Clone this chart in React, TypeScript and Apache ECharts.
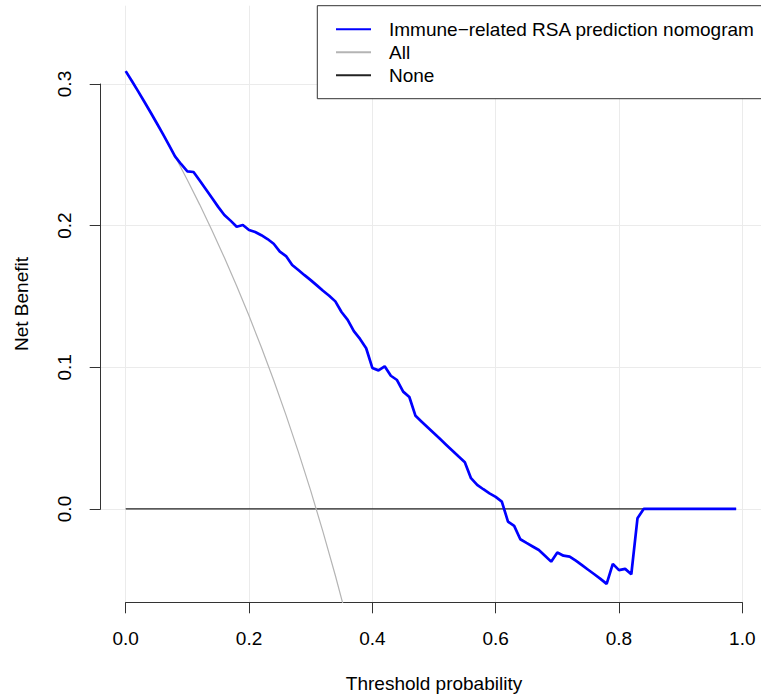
import React, { useEffect, useRef } from "react";
import * as echarts from "echarts";

const MODEL_NAME = "Immune\u2212related RSA prediction nomogram";

// Threshold probabilities of the model curve (0.00 .. 0.99)
const modelThresholds = [
  0.0, 0.01, 0.02, 0.03, 0.04, 0.05, 0.06, 0.07, 0.08, 0.09,
  0.1, 0.11, 0.12, 0.13, 0.14, 0.15, 0.16, 0.17, 0.18, 0.19,
  0.2, 0.21, 0.22, 0.23, 0.24, 0.25, 0.26, 0.27, 0.28, 0.29,
  0.3, 0.31, 0.32, 0.33, 0.34, 0.35, 0.36, 0.37, 0.38, 0.39,
  0.4, 0.41, 0.42, 0.43, 0.44, 0.45, 0.46, 0.47, 0.48, 0.49,
  0.5, 0.51, 0.52, 0.53, 0.54, 0.55, 0.56, 0.57, 0.58, 0.59,
  0.6, 0.61, 0.62, 0.63, 0.64, 0.65, 0.66, 0.67, 0.68, 0.69,
  0.7, 0.71, 0.72, 0.73, 0.74, 0.75, 0.76, 0.77, 0.78, 0.79,
  0.8, 0.81, 0.82, 0.83, 0.84, 0.85, 0.86, 0.87, 0.88, 0.89,
  0.9, 0.91, 0.92, 0.93, 0.94, 0.95, 0.96, 0.97, 0.98, 0.99,
];
const modelNetBenefit = [
  0.309, 0.302, 0.2949, 0.2876, 0.2802, 0.2726, 0.2649, 0.257, 0.2489, 0.2433,
  0.2383, 0.2378, 0.2318, 0.2256, 0.2194, 0.2132, 0.2075, 0.2035, 0.1992, 0.2004,
  0.1969, 0.1955, 0.1932, 0.1905, 0.1872, 0.1816, 0.1785, 0.1722, 0.1686, 0.165,
  0.1615, 0.1578, 0.154, 0.1505, 0.1465, 0.139, 0.1334, 0.1255, 0.12, 0.1134,
  0.0995, 0.0978, 0.1007, 0.094, 0.091, 0.0828, 0.079, 0.0657, 0.0616, 0.0575,
  0.0534, 0.0493, 0.0452, 0.0411, 0.037, 0.033, 0.0217, 0.017, 0.0139, 0.011,
  0.0085, 0.0052, -0.009, -0.012, -0.0214, -0.024, -0.0265, -0.029, -0.033, -0.0372,
  -0.0308, -0.033, -0.0336, -0.0365, -0.0397, -0.0429, -0.0461, -0.0494, -0.0529, -0.0388,
  -0.0432, -0.0423, -0.0461, -0.0066, 0.0, 0.0, 0.0, 0.0, 0.0, 0.0,
  0.0, 0.0, 0.0, 0.0, 0.0, 0.0, 0.0, 0.0, 0.0, 0.0,
];

// "All" (treat everyone) curve
const allThresholds = [
  0.0, 0.02, 0.04, 0.06, 0.08, 0.1, 0.12, 0.14, 0.16, 0.18,
  0.2, 0.22, 0.24, 0.26, 0.28, 0.3, 0.32, 0.34, 0.36,
];
const allNetBenefit = [
  0.309, 0.2949, 0.2802, 0.2649, 0.2489, 0.2322, 0.2148, 0.1965, 0.1774, 0.1573,
  0.1363, 0.1141, 0.0908, 0.0662, 0.0403, 0.0129, -0.0162, -0.047, -0.0797,
];

// "None" (treat no one) line
const noneThresholds = [0.0, 0.99];
const noneNetBenefit = [0.0, 0.0];

const xTicks = [0, 0.2, 0.4, 0.6, 0.8, 1.0];
const yTicks = [0, 0.1, 0.2, 0.3];

const FONT = "'Liberation Sans', Arial, Helvetica, sans-serif";

function zip(xs: number[], ys: number[]) {
  return xs.map((x, i) => [x, ys[i]]);
}

export default function App() {
  const ref = useRef<HTMLDivElement | null>(null);

  useEffect(() => {
    if (!ref.current) return;
    const chart = echarts.init(ref.current, undefined, { renderer: "svg" });

    const axisColor = "#333333";
    const gridColor = "#ebebeb";
    const transparent = "rgba(0,0,0,0)";

    const option: any = {
      animation: false,
      backgroundColor: "#ffffff",
      textStyle: { fontFamily: FONT },
      grid: [
        { left: 125.7, right: 18.7, top: 5.7, bottom: 93.7, containLabel: false, outerBoundsMode: "none" },
        { left: 100.7, right: 0, top: 84, bottom: 187, containLabel: false, outerBoundsMode: "none" },
      ],
      xAxis: [
        {
          gridIndex: 0,
          type: "value",
          min: xTicks[0],
          max: xTicks[xTicks.length - 1],
          interval: 0.2,
          axisLine: { show: true, onZero: false, lineStyle: { color: axisColor, width: 1 } },
          axisTick: { show: true, inside: false, length: 11, lineStyle: { color: axisColor, width: 1 } },
          axisLabel: {
            show: true,
            margin: 27,
            fontSize: 19,
            color: "#000",
            fontFamily: FONT,
            formatter: (v: number) => v.toFixed(1),
          },
          splitLine: { show: true, lineStyle: { color: gridColor, width: 1 } },
          name: "Threshold probability",
          nameLocation: "middle",
          nameGap: 72,
          nameTextStyle: { fontSize: 19, color: "#000", fontFamily: FONT },
        },
        {
          gridIndex: 1,
          type: "value",
          min: 0,
          max: 1,
          show: false,
        },
      ],
      yAxis: [
        {
          gridIndex: 0,
          type: "value",
          min: -0.0659,
          max: 0.3552,
          axisLine: { show: false },
          axisTick: { show: false },
          axisLabel: { show: false },
          splitLine: { show: false },
          name: "Net Benefit",
          nameLocation: "middle",
          nameRotate: 90,
          nameGap: 95,
          nameTextStyle: { fontSize: 19, color: "#000", fontFamily: FONT },
        },
        {
          gridIndex: 1,
          type: "value",
          min: yTicks[0],
          max: yTicks[yTicks.length - 1],
          interval: 0.1,
          axisLine: { show: true, lineStyle: { color: axisColor, width: 1 } },
          axisTick: { show: true, inside: false, length: 11, lineStyle: { color: axisColor, width: 1 } },
          axisLabel: {
            show: true,
            rotate: 90,
            margin: 27,
            fontSize: 19,
            color: "#000",
            fontFamily: FONT,
            formatter: (v: number) => v.toFixed(1),
          },
          splitLine: { show: true, lineStyle: { color: gridColor, width: 1 } },
        },
      ],
      legend: {
        data: [MODEL_NAME, "All", "None"],
        orient: "vertical",
        left: 317.3,
        top: 5.7,
        backgroundColor: "#ffffff",
        borderColor: axisColor,
        borderWidth: 1,
        borderRadius: 0,
        padding: [14, 40, 14, 17.7],
        itemWidth: 35,
        itemHeight: 14,
        itemGap: 4,
        selectedMode: false,
        itemStyle: { color: transparent, borderColor: transparent, borderWidth: 0, opacity: 0 },
        textStyle: { fontSize: 19, color: "#000", fontFamily: FONT, padding: [0, 0, 0, 13] },
      },
      series: [
        {
          name: "None",
          type: "line",
          xAxisIndex: 0,
          yAxisIndex: 0,
          data: zip(noneThresholds, noneNetBenefit),
          symbol: "none",
          showSymbol: false,
          clip: true,
          lineStyle: { color: "#222222", width: 1.3 },
          itemStyle: { color: "#222222" },
          z: 3,
        },
        {
          name: "All",
          type: "line",
          xAxisIndex: 0,
          yAxisIndex: 0,
          data: zip(allThresholds, allNetBenefit),
          symbol: "none",
          showSymbol: false,
          clip: true,
          lineStyle: { color: "#b4b4b4", width: 1.2 },
          itemStyle: { color: "#b4b4b4" },
          z: 4,
        },
        {
          name: MODEL_NAME,
          type: "line",
          xAxisIndex: 0,
          yAxisIndex: 0,
          data: zip(modelThresholds, modelNetBenefit),
          symbol: "none",
          showSymbol: false,
          clip: true,
          lineStyle: { color: "#0000ff", width: 2.7 },
          itemStyle: { color: "#0000ff" },
          z: 5,
        },
      ],
    };

    chart.setOption(option);
    return () => {
      chart.dispose();
    };
  }, []);

  return (
    <div
      ref={ref}
      style={{ position: "fixed", left: 0, top: 0, width: 761, height: 696, background: "#fff" }}
    />
  );
}
